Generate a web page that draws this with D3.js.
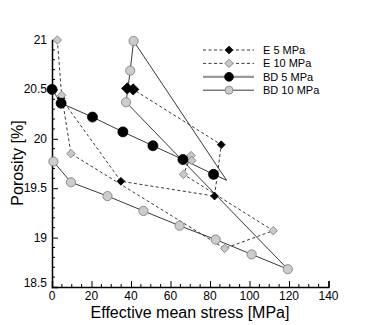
<!DOCTYPE html>
<html>

<head>
  <script src="https://cdn.jsdelivr.net/npm/d3@7"></script>
  <style>
    body { margin: 0; background: white; }
    text { font-family: "Liberation Sans", Arial, sans-serif; fill: black; }
  </style>
</head>

<body>
  <svg id="chart" width="366" height="325"></svg>

  <script>
    // E 5 MPa (black diamonds, dashed)
    var e5X = [4.6, 34.9, 82.3, 85.7, 41.1, 38.1];
    var e5Y = [20.41, 19.57, 19.42, 19.94, 20.50, 20.51];

    // E 10 MPa (grey diamonds, dashed)
    var e10X = [2.7, 4.9, 9.6, 87.4, 112.0, 66.6, 70.4, 70.8];
    var e10Y = [21.0, 20.44, 19.85, 18.89, 19.07, 19.64, 19.83, 19.78];

    // BD 5 MPa (black circles, solid); last two points carry no visible marker
    var bd5X = [0, 4.6, 20.5, 35.9, 51.1, 66.3, 81.8, 88.4, 41.3];
    var bd5Y = [20.5, 20.36, 20.22, 20.07, 19.93, 19.79, 19.64, 19.58, 20.99];
    var bd5Hidden = [7, 8];

    // BD 10 MPa (grey circles, solid)
    var bd10X = [0.7, 9.6, 28.1, 46.3, 64.6, 82.9, 101.1, 119.4, 37.5, 39.6, 41.3];
    var bd10Y = [19.77, 19.56, 19.42, 19.27, 19.12, 18.98, 18.83, 18.68, 20.37, 20.69, 20.99];

    var xTicks = [0, 20, 40, 60, 80, 100, 120, 140];
    var yTicks = [18.5, 19, 19.5, 20, 20.5, 21];
    var legendLabels = ['E 5 MPa', 'E 10 MPa', 'BD 5 MPa', 'BD 10 MPa'];

    var svg = d3.select('#chart');

    var x = d3.scaleLinear().domain([0, 140]).range([52, 328.5]);
    var y = d3.scaleLinear().domain([18.5, 21]).range([287, 40]);

    var line = d3.line().x(d => x(d[0])).y(d => y(d[1]));
    var zip = (xs, ys) => xs.map((v, i) => [v, ys[i]]);

    // minor ticks drawn first, pointing inwards
    var xMinor = d3.range(0, 141, 5).filter(v => v % 20 != 0);
    var yMinor = d3.range(185, 211, 1).map(v => v / 10).filter(v => Math.round(v * 10) % 5 != 0);

    svg.append('g').selectAll('line').data(xMinor).enter().append('line')
      .attr('x1', d => x(d)).attr('x2', d => x(d))
      .attr('y1', y(18.5)).attr('y2', y(18.5) - 3)
      .attr('stroke', 'black');

    svg.append('g').selectAll('line').data(yMinor).enter().append('line')
      .attr('x1', x(0)).attr('x2', x(0) + 3)
      .attr('y1', d => y(d)).attr('y2', d => y(d))
      .attr('stroke', 'black');

    // x axis
    var xAxis = svg.append('g')
      .attr('transform', 'translate(0,' + y(18.5) + ')')
      .call(d3.axisTop(x).tickValues(xTicks).tickSize(6).tickFormat(''));
    xAxis.select('.domain').attr('stroke', 'black').attr('stroke-width', 1.5);
    xAxis.selectAll('.tick line').attr('stroke', 'black');

    svg.append('g').selectAll('text').data(xTicks).enter().append('text')
      .attr('x', d => x(d))
      .attr('y', 300)
      .attr('text-anchor', 'middle')
      .attr('font-size', '12px')
      .text(d => d);

    // y axis
    var yAxis = svg.append('g')
      .attr('transform', 'translate(' + x(0) + ',0)')
      .call(d3.axisRight(y).tickValues(yTicks).tickSize(6).tickFormat(''));
    yAxis.select('.domain').attr('stroke', 'black').attr('stroke-width', 1.5);
    yAxis.selectAll('.tick line').attr('stroke', 'black');

    svg.append('g').selectAll('text').data(yTicks).enter().append('text')
      .attr('x', 47)
      .attr('y', d => y(d) + 4 - (d == 18.5 ? 4 : 0))
      .attr('text-anchor', 'end')
      .attr('font-size', '12px')
      .text(d => d);

    // axis titles
    svg.append('text')
      .attr('x', 190)
      .attr('y', 318)
      .attr('text-anchor', 'middle')
      .attr('font-size', '16px')
      .text('Effective mean stress [MPa]');

    svg.append('text')
      .attr('transform', 'translate(23,163) rotate(-90)')
      .attr('text-anchor', 'middle')
      .attr('font-size', '16px')
      .text('Porosity  [%]');

    // styles per series; diamonds are squares turned 45 degrees
    var square = d3.symbol().type(d3.symbolSquare);
    var styles = {
      e5: { dash: '3,2.5', fill: 'black', stroke: 'black', sym: 'diamond', size: 30 },
      e10: { dash: '3,2.5', fill: '#c8c8c8', stroke: '#808080', sym: 'diamond', size: 36 },
      bd5: { dash: null, fill: 'black', stroke: 'black', sym: 'circle', r: 5 },
      bd10: { dash: null, fill: '#cccccc', stroke: '#777777', sym: 'circle', r: 4.6 }
    };

    function drawLine(pts, st) {
      svg.append('path')
        .attr('d', line(pts))
        .attr('fill', 'none')
        .attr('stroke', '#222')
        .attr('stroke-width', 0.9)
        .attr('stroke-dasharray', st.dash);
    }

    function drawMarkers(pts, st) {
      var g = svg.append('g');
      if (st.sym == 'circle') {
        g.selectAll('circle').data(pts).enter().append('circle')
          .attr('cx', d => x(d[0])).attr('cy', d => y(d[1]))
          .attr('r', st.r)
          .attr('fill', st.fill).attr('stroke', st.stroke).attr('stroke-width', 0.8);
      } else {
        g.selectAll('path').data(pts).enter().append('path')
          .attr('transform', d => 'translate(' + x(d[0]) + ',' + y(d[1]) + ') rotate(45)')
          .attr('d', square.size(st.size)())
          .attr('fill', st.fill).attr('stroke', st.stroke).attr('stroke-width', 0.8);
      }
    }

    var e5 = zip(e5X, e5Y), e10 = zip(e10X, e10Y), bd5 = zip(bd5X, bd5Y), bd10 = zip(bd10X, bd10Y);

    drawLine(e5, styles.e5);
    drawLine(e10, styles.e10);
    drawLine(bd5, styles.bd5);
    drawLine(bd10, styles.bd10);

    drawMarkers(e5.slice(0, 4), styles.e5);
    drawMarkers(e5.slice(4), Object.assign({}, styles.e5, { size: 64 }));
    drawMarkers(e10, styles.e10);
    drawMarkers(bd5.filter((d, i) => bd5Hidden.indexOf(i) < 0), styles.bd5);
    drawMarkers(bd10, styles.bd10);

    // legend
    var legend = svg.append('g');
    var legendKeys = ['e5', 'e10', 'bd5', 'bd10'];
    legendKeys.forEach((k, i) => {
      var st = styles[k];
      var ly = 50 + i * 13.4;
      legend.append('line')
        .attr('x1', 203).attr('x2', 254)
        .attr('y1', ly).attr('y2', ly)
        .attr('stroke', k == 'bd5' ? '#999' : '#222')
        .attr('stroke-width', k == 'bd5' ? 2.2 : 0.9)
        .attr('stroke-dasharray', st.dash);
      if (st.sym == 'circle') {
        legend.append('circle')
          .attr('cx', 229).attr('cy', ly).attr('r', st.r - 0.6)
          .attr('fill', st.fill).attr('stroke', st.stroke).attr('stroke-width', 0.8);
      } else {
        legend.append('path')
          .attr('transform', 'translate(229,' + ly + ') rotate(45)')
          .attr('d', square.size(st.size)())
          .attr('fill', st.fill).attr('stroke', st.stroke).attr('stroke-width', 0.8);
      }
      legend.append('text')
        .attr('x', 263)
        .attr('y', ly + 4)
        .attr('font-size', '11px')
        .text(legendLabels[i]);
    });
  </script>
</body>

</html>
